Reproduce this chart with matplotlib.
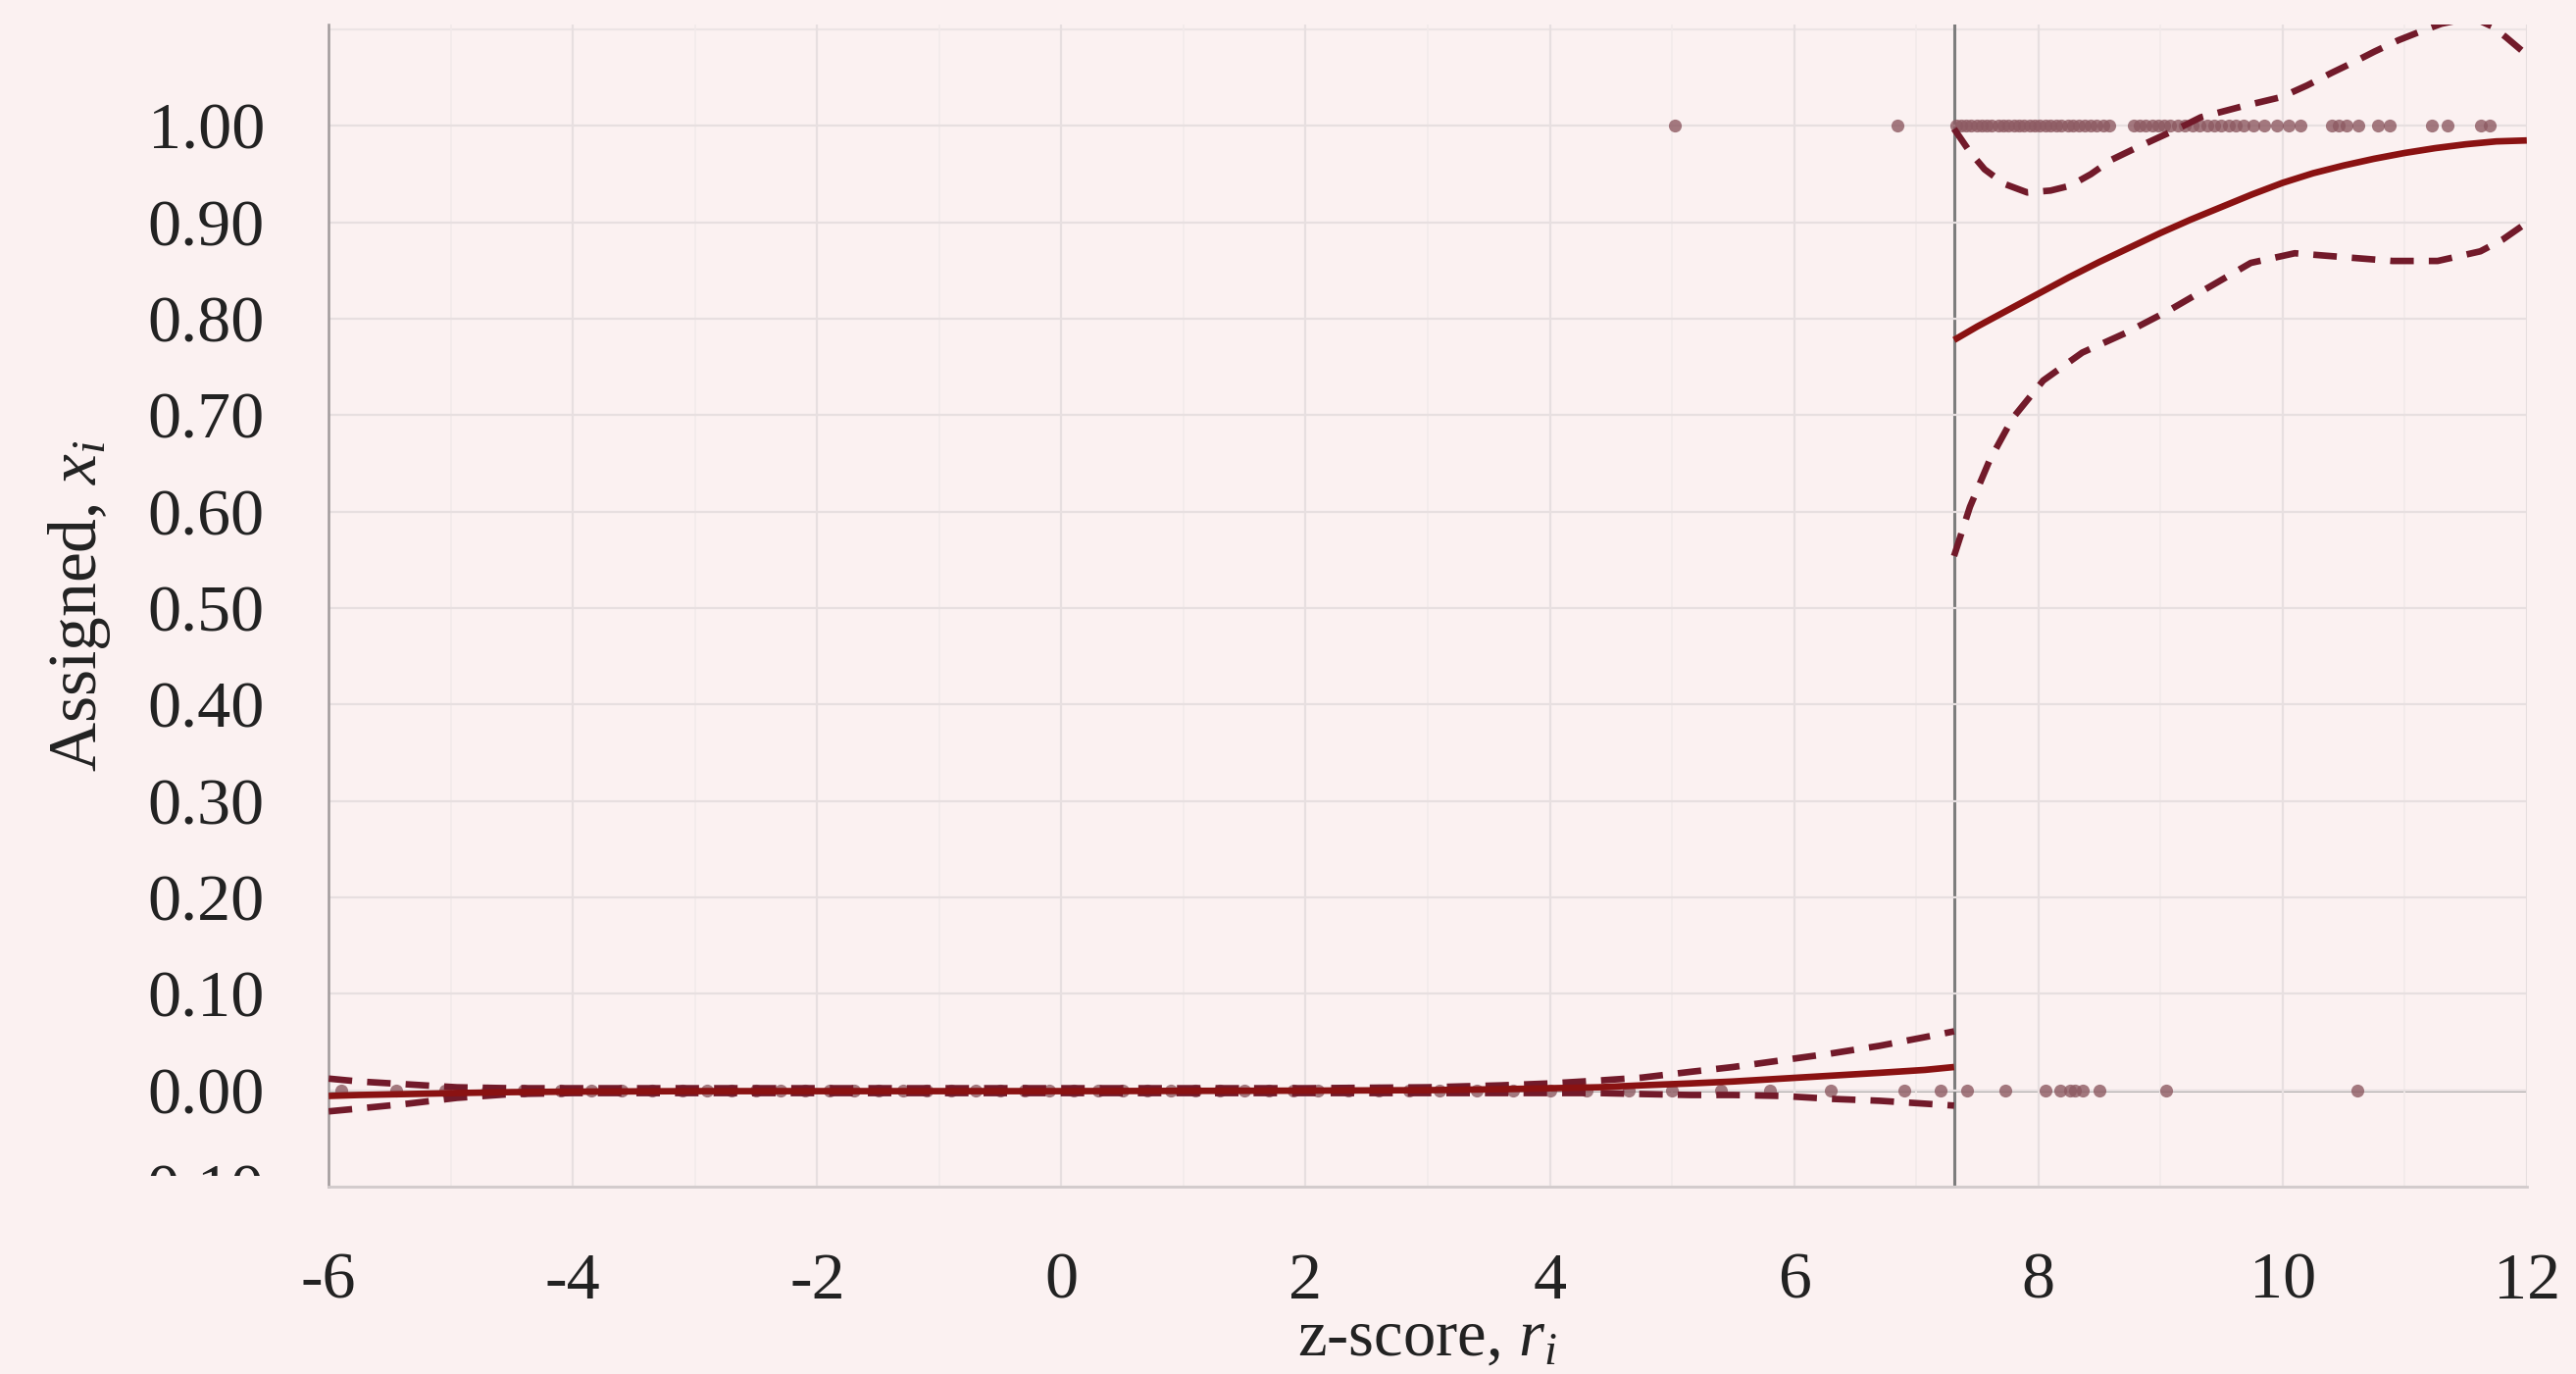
import numpy as np
import matplotlib
matplotlib.use("Agg")
import matplotlib.pyplot as plt
from matplotlib.transforms import Bbox, TransformedBbox

plt.rcParams['font.family'] = ['Liberation Serif', 'DejaVu Serif']
plt.rcParams['mathtext.fontset'] = 'custom'
plt.rcParams['mathtext.it'] = 'Liberation Serif:italic'
plt.rcParams['mathtext.rm'] = 'Liberation Serif'
plt.rcParams['axes.unicode_minus'] = False

# cutoff of the z-score
cutoff = 7.31

# fitted line and confidence band, below the cutoff
x_left = [-6.0, -5.75, -5.35, -4.95, -4.5, -4.0, -3.0, -2.0, 0.0, 2.0, 3.0, 3.6,
          4.0, 4.4, 4.75, 5.15, 5.5, 5.9, 6.3, 6.7, 7.07, 7.31]
fit_left = [-0.006, -0.005, -0.004, -0.003, -0.002, -0.0015, -0.001, -0.001, -0.001, -0.0005,
            0.0, 0.001, 0.002, 0.003, 0.005, 0.007, 0.009, 0.012, 0.015, 0.018, 0.021, 0.024]
upper_left = [0.012, 0.009, 0.006, 0.003, 0.002, 0.002, 0.002, 0.002, 0.002, 0.002,
              0.003, 0.005, 0.007, 0.010, 0.013, 0.019, 0.024, 0.031, 0.038, 0.046, 0.055, 0.061]
lower_left = [-0.022, -0.019, -0.014, -0.008, -0.004, -0.003, -0.003, -0.003, -0.003, -0.003,
              -0.003, -0.003, -0.003, -0.003, -0.004, -0.005, -0.005, -0.006, -0.009, -0.011, -0.014, -0.016]

# fitted line above the cutoff
x_right = [7.31, 7.5, 7.75, 8.0, 8.25, 8.5, 8.75, 9.0, 9.25, 9.5, 9.75, 10.0,
           10.25, 10.5, 10.75, 11.0, 11.25, 11.5, 11.75, 12.0]
fit_right = [0.778, 0.792, 0.809, 0.826, 0.843, 0.859, 0.874, 0.889, 0.903, 0.916, 0.929, 0.941,
             0.951, 0.959, 0.966, 0.972, 0.977, 0.981, 0.984, 0.985]

# upper band above the cutoff
x_upper_right = [7.31, 7.44, 7.56, 7.72, 7.91, 8.1, 8.26, 8.43, 8.6, 8.78, 8.95, 9.14, 9.33,
                 9.66, 9.99, 10.2, 10.4, 10.58, 10.75, 10.95, 11.13, 11.3, 11.45, 11.6,
                 11.72, 11.83, 11.97, 12.0]
upper_right = [0.997, 0.973, 0.955, 0.940, 0.931, 0.933, 0.938, 0.950, 0.965, 0.976, 0.986,
               0.997, 1.009, 1.020, 1.030, 1.042, 1.055, 1.066, 1.077, 1.089, 1.098, 1.106,
               1.110, 1.110, 1.103, 1.092, 1.077, 1.073]

# lower band above the cutoff
x_lower_right = [7.31, 7.44, 7.6, 7.79, 8.04, 8.36, 8.71, 9.06, 9.4, 9.74, 10.1, 10.5,
                 10.9, 11.27, 11.62, 11.8, 11.97, 12.0]
lower_right = [0.554, 0.605, 0.653, 0.697, 0.736, 0.765, 0.785, 0.808, 0.833, 0.858, 0.868,
               0.864, 0.860, 0.860, 0.870, 0.882, 0.897, 0.901]

# observations (assigned = 0 or 1)
obs_x0 = [-5.9, -5.45, -5.05, -4.7, -4.4, -4.1, -3.85, -3.6, -3.35, -3.1, -2.9, -2.7, -2.5,
          -2.3, -2.1, -1.9, -1.7, -1.5, -1.3, -1.1, -0.9, -0.7, -0.5, -0.3, -0.1, 0.1, 0.3,
          0.5, 0.7, 0.9, 1.1, 1.3, 1.5, 1.7, 1.9, 2.1, 2.35, 2.6, 2.85, 3.1, 3.4, 3.7, 4.0,
          4.3, 4.65, 5.0, 5.4, 5.8, 6.3, 6.9, 7.2,
          7.42, 7.73, 8.06, 8.18, 8.26, 8.30, 8.36, 8.50, 9.05, 10.61]
obs_x1 = [5.02, 6.85,
          7.33, 7.37, 7.41, 7.45, 7.50, 7.54, 7.58, 7.62, 7.67, 7.71, 7.75, 7.80, 7.84, 7.88,
          7.93, 7.97, 8.01, 8.06, 8.10, 8.15, 8.19, 8.24, 8.28, 8.33, 8.38, 8.43, 8.48, 8.53,
          8.58, 8.78, 8.83, 8.88, 8.93, 8.98, 9.03, 9.08, 9.14, 9.20, 9.26, 9.32, 9.38, 9.44,
          9.50, 9.56, 9.62, 9.68, 9.76, 9.85, 9.95, 10.05, 10.15, 10.40, 10.46, 10.52, 10.62,
          10.78, 10.88, 11.22, 11.35, 11.62, 11.70]

y_ticks = [-0.10, 0.00, 0.10, 0.20, 0.30, 0.40, 0.50, 0.60, 0.70, 0.80, 0.90, 1.00]
x_ticks = [-6, -4, -2, 0, 2, 4, 6, 8, 10, 12]

bg = '#fbf1f1'
solid_col = '#8a1212'
dash_col = '#721a2a'
dot_col = '#8d5a62'

fig = plt.figure(figsize=(26.27, 14.01), dpi=100, facecolor=bg)
ax = fig.add_axes([0.1276, 0.1364, 0.8533, 0.8456])
ax.set_facecolor(bg)

ax.set_xlim(-6, 12)
ax.set_ylim(-0.10, 1.105)

# grid
ax.set_xticks(x_ticks)
ax.set_xticks([-5, -3, -1, 1, 3, 5, 7, 9, 11], minor=True)
ax.set_yticks(y_ticks)
ax.grid(True, which='major', color='#e7dfe0', lw=1.6, zorder=0)
ax.grid(True, which='minor', axis='x', color='#f2eaea', lw=1.2, zorder=0)
ax.axhline(1.10, color='#ece4e5', lw=1.6, zorder=0)

# zero line and cutoff
ax.axhline(0, color='#8c8c8c', lw=1.8, zorder=1)
ax.axvline(cutoff, color='#7d7d7d', lw=2.2, zorder=1)

# observations
ax.scatter(obs_x0, np.zeros(len(obs_x0)), s=90, color=dot_col, alpha=0.8, lw=0, zorder=2)
ax.scatter(obs_x1, np.ones(len(obs_x1)), s=90, color=dot_col, alpha=0.8, lw=0, zorder=2)

# confidence bands
for xs, ys in [(x_left, upper_left), (x_left, lower_left),
               (x_upper_right, upper_right), (x_lower_right, lower_right)]:
    ax.plot(xs, ys, color=dash_col, lw=4.8, dashes=(3.6, 2.3), zorder=3)

# fitted lines
ax.plot(x_left, fit_left, color=solid_col, lw=4.8, zorder=4, solid_capstyle='butt')
ax.plot(x_right, fit_right, color=solid_col, lw=4.8, zorder=4, solid_capstyle='butt')

# spines and ticks
for s in ['top', 'right']:
    ax.spines[s].set_visible(False)
ax.spines['left'].set_color('#a09a9b')
ax.spines['left'].set_linewidth(1.8)
ax.spines['bottom'].set_color('#d2cbcc')
ax.spines['bottom'].set_linewidth(2.0)

ax.yaxis.set_major_formatter(matplotlib.ticker.FormatStrFormatter('%.2f'))
ax.tick_params(axis='both', which='both', length=0, labelsize=49, colors='#222222')
ax.tick_params(axis='y', pad=47)
ax.tick_params(axis='x', pad=48)

# the -0.10 label is cut off at the bottom of the plot area
clip = TransformedBbox(Bbox([[0, 0.1445], [1, 1]]), fig.transFigure)
for lab in ax.get_yticklabels():
    lab.set_clip_box(clip)
    lab.set_clip_on(True)

ax.set_xlabel('z-score, $r_i$', fontsize=48, color='#222222')
ax.xaxis.set_label_coords(0.5, -0.131)
ax.xaxis.label.set_va('center')
ax.set_ylabel('Assigned, $x_i$', fontsize=50, color='#222222')
ax.yaxis.set_label_coords(-0.1135, 0.5)
ax.yaxis.label.set_va('center')

fig.savefig('out.png', dpi=100, facecolor=bg)
